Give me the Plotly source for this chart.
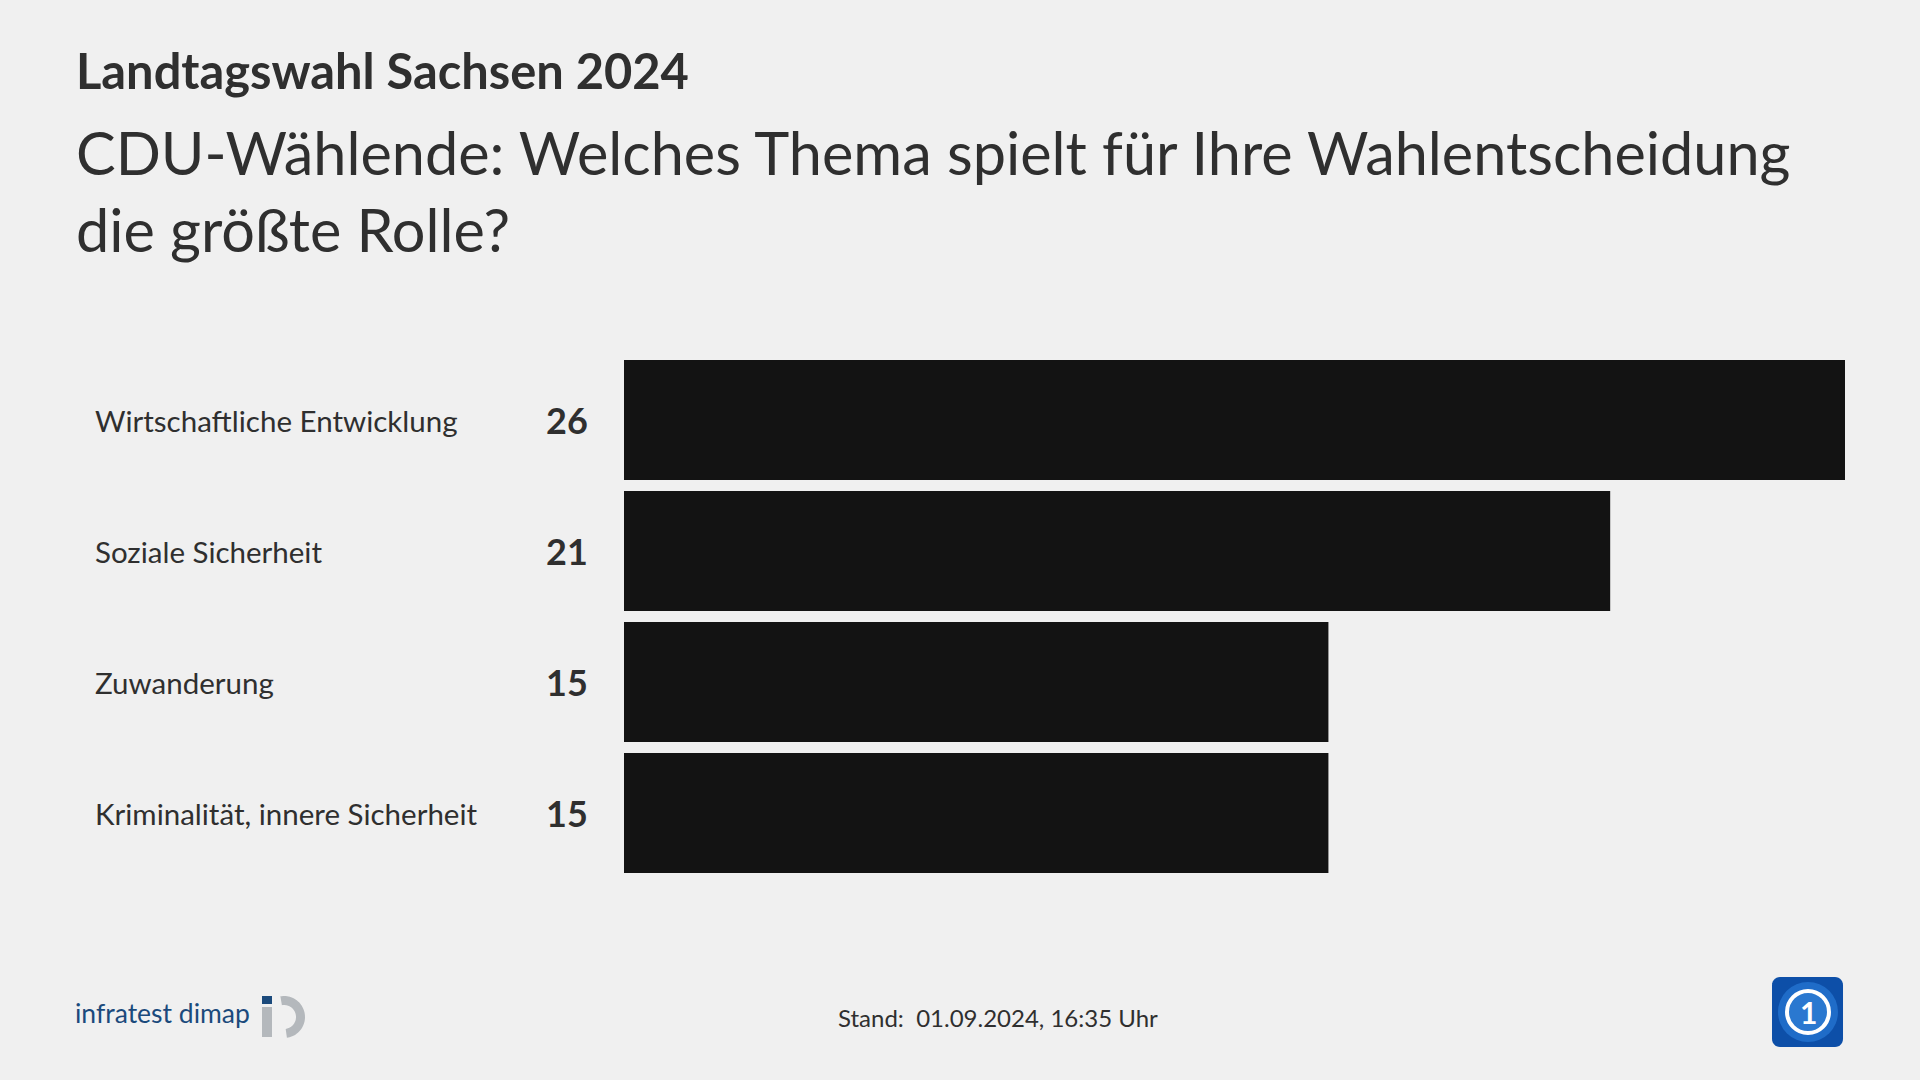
import numpy as np
import plotly.graph_objects as go

W, H = 1920, 1080

title = "Landtagswahl Sachsen 2024"
subtitle = "CDU-Wählende: Welches Thema spielt für Ihre Wahlentscheidung<br>die größte Rolle?"
categories = ["Wirtschaftliche Entwicklung", "Soziale Sicherheit", "Zuwanderung",
              "Kriminalität, innere Sicherheit"]
values = [26, 21, 15, 15]
stand = "Stand:  01.09.2024, 16:35 Uhr"
source = "infratest dimap"

BG = "#f0f0f0"
BAR = "#131313"
TXT = "#2f2f2f"
FONT = "Lato"

def px(x):
    return x / W

def py(y):
    return 1 - y / H

fig = go.Figure()
fig.add_trace(go.Bar(
    x=values, y=categories, orientation="h",
    marker=dict(color=BAR, line=dict(width=0)),
    hoverinfo="skip", showlegend=False,
))

fig.update_layout(
    width=W, height=H,
    paper_bgcolor=BG, plot_bgcolor=BG,
    margin=dict(l=0, r=0, t=0, b=0),
    bargap=11 / 131,
    xaxis=dict(domain=[px(624), px(1845)], range=[0, max(values)],
               visible=False, fixedrange=True),
    yaxis=dict(domain=[py(878.5), py(354.5)], autorange="reversed",
               visible=False, fixedrange=True),
    font=dict(family=FONT, color=TXT),
)

ann = []
ann.append(dict(text="<b>" + title + "</b>", x=px(74), y=py(70), xref="paper", yref="paper",
                xanchor="left", yanchor="middle", showarrow=False,
                font=dict(size=48.8, family=FONT, color=TXT)))
ann.append(dict(text=subtitle, x=px(74), y=py(190), xref="paper", yref="paper",
                xanchor="left", yanchor="middle", showarrow=False, align="left",
                font=dict(size=59.4, family=FONT, color=TXT)))
for c, v in zip(categories, values):
    ann.append(dict(text=c, x=px(92.5), y=c, xref="paper", yref="y",
                    xanchor="left", yanchor="middle", showarrow=False,
                    font=dict(size=29.5, family=FONT, color=TXT)))
    ann.append(dict(text="<b>%d</b>" % v, x=px(589.5), y=c, xref="paper", yref="y",
                    xanchor="right", yanchor="middle", showarrow=False,
                    font=dict(size=36, family=FONT, color=TXT)))
ann.append(dict(text=stand, x=px(998), y=py(1017), xref="paper", yref="paper",
                xanchor="center", yanchor="middle", showarrow=False,
                font=dict(size=24, family=FONT, color=TXT)))
ann.append(dict(text=source, x=px(73), y=py(1013), xref="paper", yref="paper",
                xanchor="left", yanchor="middle", showarrow=False,
                font=dict(size=26.5, family=FONT, color="#1b4a7c")))
ann.append(dict(text="<b>1</b>", x=px(1808), y=py(1012), xref="paper", yref="paper",
                xanchor="center", yanchor="middle", showarrow=False,
                font=dict(size=30, family=FONT, color="white")))
fig.update_layout(annotations=ann)

shapes = []
# infratest dimap logo: blue square + grey stem + grey D-shaped arc
shapes.append(dict(type="rect", xref="paper", yref="paper",
                   x0=px(262), x1=px(272), y0=py(1004), y1=py(996),
                   fillcolor="#1b4a7c", line=dict(width=0)))
shapes.append(dict(type="rect", xref="paper", yref="paper",
                   x0=px(262), x1=px(272), y0=py(1037), y1=py(1007),
                   fillcolor="#b4b8bc", line=dict(width=0)))
cx, cy, ro, ri = 284, 1017, 21, 12
th = np.linspace(np.deg2rad(-82), np.deg2rad(100), 50)
outer = [(cx + ro * np.cos(t), cy - ro * np.sin(t)) for t in th]
inner = [(cx + ri * np.cos(t), cy - ri * np.sin(t)) for t in th[::-1]]
pts = outer + inner
path = "M " + " L ".join("%.5f,%.5f" % (px(a), py(b)) for a, b in pts) + " Z"
shapes.append(dict(type="path", xref="paper", yref="paper", path=path,
                   fillcolor="#b4b8bc", line=dict(width=0)))
# ARD logo: rounded blue square with white ring
x0, x1, y0, y1, r = 1772, 1843, 977, 1047, 8
rr = []
for (ccx, ccy, a0) in [(x1 - r, y0 + r, 0), (x0 + r, y0 + r, 90), (x0 + r, y1 - r, 180), (x1 - r, y1 - r, 270)]:
    for a in np.linspace(a0, a0 + 90, 8):
        t = np.deg2rad(a)
        rr.append((ccx + r * np.cos(t), ccy - r * np.sin(t)))
path2 = "M " + " L ".join("%.5f,%.5f" % (px(a), py(b)) for a, b in rr) + " Z"
shapes.append(dict(type="path", xref="paper", yref="paper", path=path2,
                   fillcolor="#0d4fa8", line=dict(width=0)))
shapes.append(dict(type="circle", xref="paper", yref="paper",
                   x0=px(1778), x1=px(1838), y0=py(1042), y1=py(982),
                   fillcolor="#1f6cc8", line=dict(width=0)))
shapes.append(dict(type="circle", xref="paper", yref="paper",
                   x0=px(1787), x1=px(1829), y0=py(1033), y1=py(991),
                   fillcolor="#2a78d0", line=dict(color="white", width=4)))
fig.update_layout(shapes=shapes)

fig.write_html("out.html", config={"displayModeBar": False})
